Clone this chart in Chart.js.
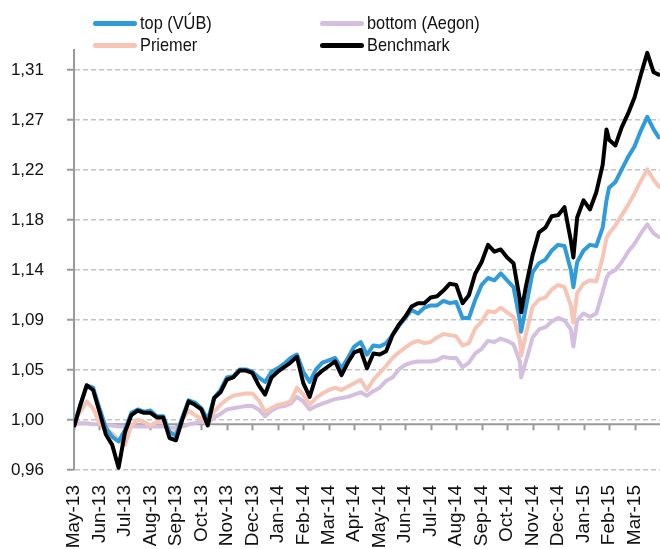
<!DOCTYPE html>
<html>
<head>
<meta charset="utf-8">
<script src="https://cdn.jsdelivr.net/npm/chart.js@4.4.1/dist/chart.umd.min.js"></script>
<style>
  body { margin: 0; background: #fff; }
  #wrap { position: relative; width: 660px; height: 549px; }
  .leg { position: absolute; display: flex; align-items: center; font: 19px "Liberation Sans", Arial, sans-serif; color: #111; white-space: nowrap; }
  .leg span.sw { display: inline-block; width: 44px; height: 5px; border-radius: 3px; margin-right: 3px; }
  .leg span.tx { display: inline-block; transform: scaleX(0.86); transform-origin: left center; }
</style>
</head>
<body>
<div id="wrap">
  <canvas id="chart" width="660" height="549"></canvas>
  <div class="leg" style="left:93px;top:12px"><span class="sw" style="background:#2F9BDB"></span><span class="tx">top (VÚB)</span></div>
  <div class="leg" style="left:320px;top:12px"><span class="sw" style="background:#D4BFDE"></span><span class="tx">bottom (Aegon)</span></div>
  <div class="leg" style="left:93px;top:34px"><span class="sw" style="background:#F7C5B5"></span><span class="tx">Priemer</span></div>
  <div class="leg" style="left:320px;top:34px"><span class="sw" style="background:#000"></span><span class="tx">Benchmark</span></div>
</div>
<script>
// months since May-13 (0 = May-13)
const months = [0.02, 0.25, 0.5, 0.75, 1, 1.25, 1.5, 1.75, 2, 2.25, 2.5, 2.75, 3, 3.25, 3.5, 3.75,
  4, 4.25, 4.5, 4.75, 5, 5.25, 5.5, 5.75, 6, 6.25, 6.5, 6.75, 7, 7.25, 7.5, 7.75,
  8, 8.25, 8.5, 8.75, 9, 9.25, 9.5, 9.75, 10, 10.25, 10.5, 10.75, 11, 11.25, 11.5, 11.75,
  12, 12.25, 12.5, 12.75, 13, 13.25, 13.5, 13.75, 14, 14.25, 14.5, 14.75, 15, 15.25, 15.5, 15.75,
  16, 16.25, 16.5, 16.75, 17, 17.25, 17.5, 17.55, 17.75, 18, 18.25, 18.5, 18.75, 19, 19.25, 19.5, 19.6, 19.75,
  20, 20.25, 20.5, 20.75, 20.9, 21, 21.25, 21.5, 21.75, 22, 22.25, 22.5, 22.75, 22.95];

const monthLabels = ["May-13", "Jun-13", "Jul-13", "Aug-13", "Sep-13", "Oct-13", "Nov-13", "Dec-13",
  "Jan-14", "Feb-14", "Mar-14", "Apr-14", "May-14", "Jun-14", "Jul-14", "Aug-14", "Sep-14", "Oct-14",
  "Nov-14", "Dec-14", "Jan-15", "Feb-15", "Mar-15"];

const yTicks = [0.96, 1.00375, 1.0475, 1.09125, 1.135, 1.17875, 1.2225, 1.26625, 1.31];
const yTickLabels = ["0,96", "1,00", "1,05", "1,09", "1,14", "1,18", "1,22", "1,27", "1,31"];

const benchmark = [0.999, 1.017, 1.034, 1.030, 1.011, 0.991, 0.982, 0.962, 0.993, 1.008, 1.012, 1.010, 1.010, 1.006, 1.006, 0.988,
  0.986, 1.004, 1.020, 1.017, 1.013, 0.999, 1.023, 1.028, 1.039, 1.041, 1.047, 1.047, 1.045, 1.034, 1.026, 1.041,
  1.046, 1.050, 1.054, 1.059, 1.036, 1.024, 1.042, 1.047, 1.051, 1.055, 1.043, 1.054, 1.063, 1.065, 1.049, 1.062,
  1.061, 1.064, 1.078, 1.087, 1.094, 1.103, 1.106, 1.106, 1.111, 1.112, 1.117, 1.123, 1.122, 1.106, 1.113, 1.132,
  1.142, 1.157, 1.151, 1.153, 1.146, 1.141, 1.109, 1.098, 1.122, 1.148, 1.168, 1.172, 1.182, 1.183, 1.190, 1.161, 1.146, 1.181,
  1.196, 1.188, 1.203, 1.227, 1.258, 1.249, 1.244, 1.260, 1.272, 1.286, 1.306, 1.325, 1.308, 1.306];

const topVub = [1.001, 1.017, 1.034, 1.032, 1.014, 0.997, 0.989, 0.985, 0.995, 1.010, 1.013, 1.011, 1.012, 1.007, 1.007, 0.993,
  0.990, 1.006, 1.021, 1.019, 1.014, 1.004, 1.023, 1.030, 1.041, 1.042, 1.048, 1.048, 1.046, 1.041, 1.037, 1.046,
  1.049, 1.053, 1.058, 1.061, 1.046, 1.037, 1.048, 1.054, 1.056, 1.058, 1.049, 1.058, 1.068, 1.072, 1.061, 1.069,
  1.068, 1.071, 1.078, 1.086, 1.093, 1.100, 1.097, 1.102, 1.104, 1.104, 1.108, 1.106, 1.107, 1.093, 1.093, 1.109,
  1.122, 1.128, 1.126, 1.132, 1.126, 1.120, 1.091, 1.081, 1.104, 1.133, 1.141, 1.144, 1.152, 1.157, 1.156, 1.135, 1.120, 1.142,
  1.152, 1.157, 1.156, 1.172, 1.196, 1.207, 1.212, 1.223, 1.234, 1.243, 1.257, 1.269, 1.258, 1.251];

const priemer = [1.004, 1.011, 1.020, 1.014, 1.001, 0.995, 0.992, 0.986, 0.982, 0.999, 1.004, 1.002, 0.999, 1.002, 1.002, 0.994,
  0.993, 1.004, 1.012, 1.008, 1.005, 1.000, 1.011, 1.017, 1.022, 1.025, 1.026, 1.027, 1.027, 1.021, 1.011, 1.014,
  1.017, 1.018, 1.020, 1.032, 1.026, 1.017, 1.023, 1.027, 1.030, 1.032, 1.030, 1.033, 1.036, 1.039, 1.030, 1.039,
  1.045, 1.051, 1.058, 1.063, 1.067, 1.071, 1.073, 1.071, 1.072, 1.076, 1.079, 1.078, 1.077, 1.069, 1.071, 1.084,
  1.090, 1.099, 1.098, 1.102, 1.098, 1.094, 1.074, 1.060, 1.080, 1.103, 1.109, 1.111, 1.118, 1.122, 1.120, 1.104, 1.089, 1.115,
  1.123, 1.126, 1.125, 1.146, 1.163, 1.167, 1.174, 1.183, 1.192, 1.202, 1.213, 1.223, 1.214, 1.208];

const bottomAegon = [1.001, 1.001, 1.001, 1.000, 1.000, 0.999, 0.999, 0.998, 0.998, 0.998, 0.998, 0.998, 0.998, 0.998, 0.998, 0.997,
  0.997, 0.998, 1.000, 1.001, 1.002, 1.001, 1.006, 1.009, 1.013, 1.014, 1.015, 1.016, 1.016, 1.013, 1.007, 1.012,
  1.015, 1.016, 1.018, 1.024, 1.020, 1.013, 1.016, 1.018, 1.020, 1.022, 1.023, 1.024, 1.026, 1.028, 1.025, 1.029,
  1.032, 1.038, 1.041, 1.048, 1.052, 1.054, 1.055, 1.055, 1.055, 1.056, 1.059, 1.058, 1.058, 1.050, 1.054, 1.062,
  1.066, 1.073, 1.072, 1.075, 1.073, 1.070, 1.055, 1.041, 1.056, 1.076, 1.083, 1.085, 1.090, 1.093, 1.091, 1.083, 1.068, 1.091,
  1.097, 1.094, 1.097, 1.116, 1.128, 1.132, 1.135, 1.142, 1.151, 1.158, 1.167, 1.175, 1.167, 1.164];

const toPoints = (arr) => arr.map((v, i) => ({ x: months[i], y: v }));

// horizontal axis line crossing at 1,00 with month tick marks
const crossAxis = {
  id: "crossAxis",
  beforeDatasetsDraw(chart) {
    const { ctx, chartArea, scales } = chart;
    const y = scales.y.getPixelForValue(1.0);
    ctx.save();
    ctx.strokeStyle = "#9a9a9a";
    ctx.lineWidth = 2;
    ctx.beginPath();
    ctx.moveTo(chartArea.left, y);
    ctx.lineTo(chartArea.right, y);
    for (let m = 0; m < monthLabels.length; m++) {
      const x = Math.round(scales.x.getPixelForValue(m)) + 0.5;
      ctx.moveTo(x, y);
      ctx.lineTo(x, y + 6);
    }
    ctx.stroke();
    ctx.restore();
  }
};

const line = (label, data, color, order) => ({
  label, data: toPoints(data), borderColor: color, backgroundColor: color,
  borderWidth: 4, pointRadius: 0, tension: 0, order,
  borderJoinStyle: "round", borderCapStyle: "round"
});

new Chart(document.getElementById("chart"), {
  type: "line",
  data: {
    datasets: [
      line("Benchmark", benchmark, "#000000", 0),
      line("top (VÚB)", topVub, "#2F9BDB", 1),
      line("Priemer", priemer, "#F7C5B5", 2),
      line("bottom (Aegon)", bottomAegon, "#D4BFDE", 3)
    ]
  },
  options: {
    responsive: false,
    animation: false,
    devicePixelRatio: 1,
    layout: { padding: { top: 50, left: 0, right: 0, bottom: 0 } },
    plugins: { legend: { display: false }, tooltip: { enabled: false } },
    scales: {
      x: {
        type: "linear",
        min: 0,
        max: 23,
        afterBuildTicks: (s) => { s.ticks = monthLabels.map((_, i) => ({ value: i })); },
        afterFit: (s) => { s.height = 79; s.paddingLeft = 0; s.paddingRight = 0; },
        grid: { display: false, drawTicks: false },
        border: { display: false },
        ticks: {
          autoSkip: false, minRotation: 90, maxRotation: 90, padding: 15,
          color: "#111",
          font: { family: "'Liberation Sans', Arial, sans-serif", size: 19 },
          callback: (v) => monthLabels[v]
        }
      },
      y: {
        min: 0.96,
        max: 1.3275,
        afterBuildTicks: (s) => { s.ticks = yTicks.map((v) => ({ value: v })); },
        afterFit: (s) => { s.width = 74; s.paddingTop = 0; s.paddingBottom = 0; },
        grid: { color: "#c4c4c4", lineWidth: 1.5, tickColor: "#9a9a9a", tickLength: 7, tickWidth: 2 },
        border: { display: true, color: "#9a9a9a", width: 2, dash: [5, 3] },
        ticks: {
          padding: 23, color: "#111",
          font: { family: "'Liberation Sans', Arial, sans-serif", size: 17 },
          callback: (v, i) => yTickLabels[i]
        }
      }
    }
  },
  plugins: [crossAxis]
});
</script>
</body>
</html>
